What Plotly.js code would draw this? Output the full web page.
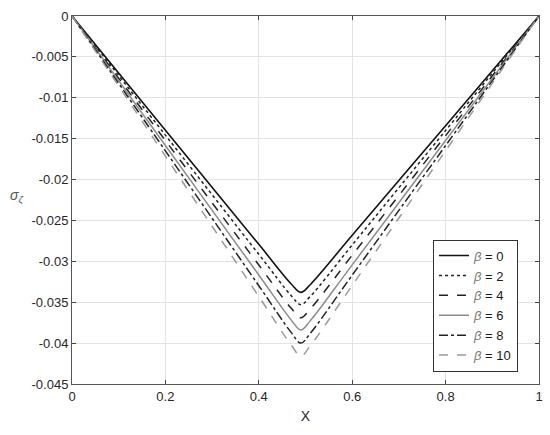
<!DOCTYPE html>
<html>
<head>
<meta charset="utf-8">
<script src="https://cdn.plot.ly/plotly-3.0.1.min.js"></script>
<style>html,body{margin:0;padding:0;background:#fff;}#chart{width:550px;height:435px;}</style>
</head>
<body>
<div id="chart"></div>
<script>
const xVals = [0, 0.2, 0.4, 0.47, 0.49, 0.51, 0.6, 0.8, 1];
const beta0  = [0, -0.01396, -0.02792, -0.03280, -0.0338, -0.03286, -0.02682, -0.01341, 0];
const beta2  = [0, -0.01457, -0.02914, -0.03424, -0.0353, -0.03430, -0.02800, -0.01400, 0];
const beta4  = [0, -0.01523, -0.03045, -0.03578, -0.0369, -0.03584, -0.02925, -0.01463, 0];
const beta6  = [0, -0.01584, -0.03167, -0.03722, -0.0384, -0.03728, -0.03043, -0.01522, 0];
const beta8  = [0, -0.01649, -0.03298, -0.03875, -0.0400, -0.03882, -0.03169, -0.01584, 0];
const beta10 = [0, -0.01714, -0.03429, -0.04029, -0.0416, -0.04035, -0.03294, -0.01647, 0];
const seriesNames = ['0', '2', '4', '6', '8', '10'];
const xTicks = [0, 0.2, 0.4, 0.6, 0.8, 1];
const xTickText = ['0', '0.2', '0.4', '0.6', '0.8', '1'];
const yTicks = [0, -0.005, -0.01, -0.015, -0.02, -0.025, -0.03, -0.035, -0.04, -0.045];
const yTickText = ['0', '-0.005', '-0.01', '-0.015', '-0.02', '-0.025', '-0.03', '-0.035', '-0.04', '-0.045'];

const allSeries = [beta0, beta2, beta4, beta6, beta8, beta10];
const styles = [
  {color: '#111111', dash: 'solid', width: 1.6},
  {color: '#222222', dash: 'dot', width: 1.5},
  {color: '#222222', dash: 'dash', width: 1.5},
  {color: '#8c8c8c', dash: 'solid', width: 1.5},
  {color: '#222222', dash: 'dashdot', width: 1.5},
  {color: '#9a9a9a', dash: 'dash', width: 1.5}
];
const traces = allSeries.map((ys, i) => ({
  x: xVals, y: ys, type: 'scatter', mode: 'lines',
  name: '<span style="color:#777"><i>β</i></span> = ' + seriesNames[i],
  line: {color: styles[i].color, dash: styles[i].dash, width: styles[i].width, shape: 'spline', smoothing: 1}
}));

const layout = {
  width: 550, height: 435,
  margin: {l: 72, r: 11, t: 16, b: 51},
  paper_bgcolor: '#ffffff', plot_bgcolor: '#ffffff',
  font: {family: 'Liberation Sans, Arial, sans-serif', size: 13, color: '#262626'},
  showlegend: true,
  legend: {
    x: 0.864, y: 0.213, xanchor: 'center', yanchor: 'middle',
    bgcolor: '#ffffff', bordercolor: '#333333', borderwidth: 1,
    font: {size: 13, color: '#1a1a1a'}
  },
  xaxis: {
    range: [0, 1], tickvals: xTicks, ticktext: xTickText,
    ticks: 'inside', ticklen: 4, tickcolor: '#444', mirror: 'ticks',
    showline: true, linecolor: '#555', linewidth: 1,
    showgrid: true, gridcolor: '#e3e3e3', zeroline: false,
    title: {text: 'X', font: {size: 14, color: '#262626'}, standoff: 8}
  },
  yaxis: {
    range: [-0.045, 0], tickvals: yTicks, ticktext: yTickText,
    ticks: 'inside', ticklen: 4, tickcolor: '#444', mirror: 'ticks',
    showline: true, linecolor: '#555', linewidth: 1,
    showgrid: true, gridcolor: '#e3e3e3', zeroline: false
  },
  annotations: [{
    text: '<i>σ</i><sub><i>ζ</i></sub>', xref: 'paper', yref: 'paper',
    x: -0.118, y: 0.51, xanchor: 'center', yanchor: 'middle', showarrow: false,
    font: {size: 14, color: '#555555'}
  }]
};
Plotly.newPlot('chart', traces, layout, {displayModeBar: false, staticPlot: true});
</script>
</body>
</html>
